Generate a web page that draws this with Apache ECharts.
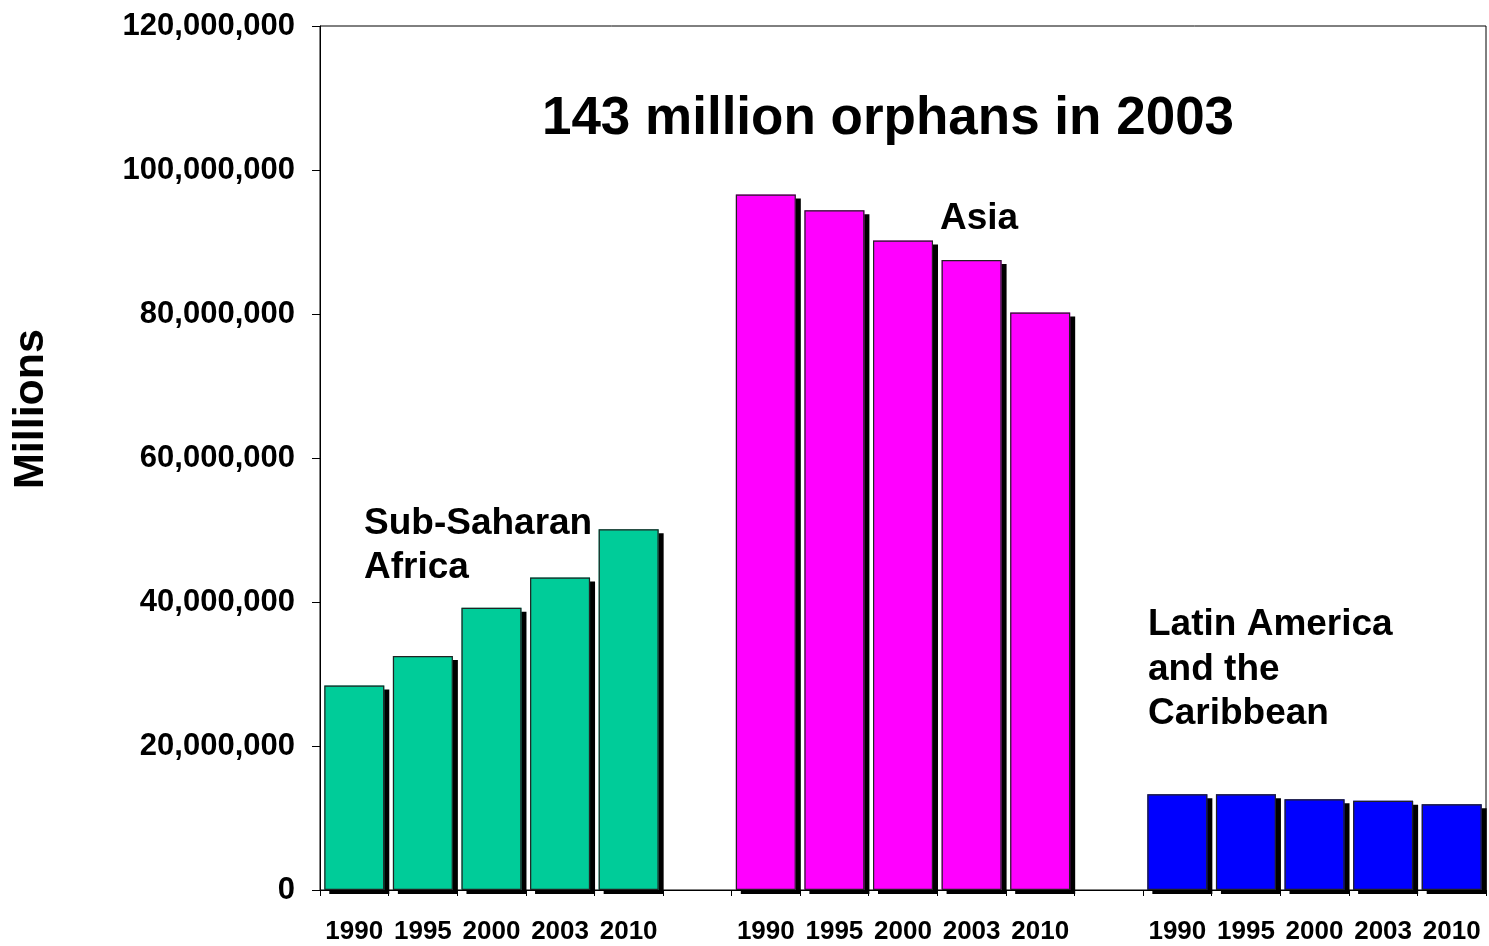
<!DOCTYPE html>
<html>
<head>
<meta charset="utf-8">
<script src="https://cdn.jsdelivr.net/npm/echarts@6/dist/echarts.min.js"></script>
<style>
  html, body { margin: 0; padding: 0; background: #fff; }
  #main { width: 1489px; height: 946px; }
</style>
</head>
<body>
<div id="main"></div>
<script>
// categories: three regions, five years each, with an empty slot after each group
var years = ['1990', '1995', '2000', '2003', '2010'];
var categories = years.concat(['']).concat(years).concat(['']).concat(years);

// orphans
var africa = [28400000, 32500000, 39200000, 43400000, 50100000];
var asia = [96600000, 94400000, 90200000, 87500000, 80200000];
var latinAmerica = [13300000, 13300000, 12600000, 12400000, 11900000];

var yTicks = [0, 20000000, 40000000, 60000000, 80000000, 100000000, 120000000];

var font = '"Liberation Sans", Arial, sans-serif';

// put each region into its own slots of the 17 categories
function place(values, start) {
  var out = [];
  for (var i = 0; i < categories.length; i++) out.push('-');
  for (var j = 0; j < values.length; j++) out[start + j] = values[j];
  return out;
}

// filled bar with the hard black drop shadow
function shadowBar(name, values, start, color) {
  return {
    name: name, type: 'bar', barWidth: 60, barGap: '-100%',
    data: place(values, start),
    itemStyle: {
      color: color, borderWidth: 0,
      shadowColor: '#000', shadowBlur: 0, shadowOffsetX: 5, shadowOffsetY: 4
    }
  };
}

// thin outline drawn on top, without shadow
function outlineBar(name, values, start) {
  return {
    name: name, type: 'bar', barWidth: 60, barGap: '-100%',
    data: place(values, start), silent: true,
    itemStyle: { color: 'transparent', borderColor: '#222', borderWidth: 1.2 }
  };
}

var myChart = echarts.init(document.getElementById('main'));

myChart.setOption({
  animation: false,
  backgroundColor: '#fff',
  grid: {
    left: 320, right: 3, top: 26, bottom: 56,
    show: true, borderColor: '#000', borderWidth: 1, backgroundColor: 'transparent'
  },
  xAxis: {
    type: 'category',
    data: categories,
    axisLine: { lineStyle: { color: '#000', width: 1 } },
    axisTick: { show: true, interval: 0, length: 6, lineStyle: { color: '#000' } },
    axisLabel: {
      interval: 0, margin: 29, color: '#000',
      fontFamily: font, fontWeight: 'bold', fontSize: 26
    },
    splitLine: { show: false }
  },
  yAxis: {
    type: 'value',
    min: yTicks[0],
    max: yTicks[yTicks.length - 1],
    interval: yTicks[1] - yTicks[0],
    axisLine: { show: true, lineStyle: { color: '#000', width: 1 } },
    axisTick: { show: true, length: 8, lineStyle: { color: '#000' } },
    axisLabel: {
      margin: 25, color: '#000', padding: [4, 0, 0, 0],
      fontFamily: font, fontWeight: 'bold', fontSize: 31,
      formatter: function (v) { return v.toLocaleString('en-US'); }
    },
    splitLine: { show: false }
  },
  series: [
    shadowBar('Sub-Saharan Africa', africa, 0, '#00CC99'),
    shadowBar('Asia', asia, 6, '#FF00FF'),
    shadowBar('Latin America and the Caribbean', latinAmerica, 12, '#0000FF'),
    outlineBar('Sub-Saharan Africa outline', africa, 0),
    outlineBar('Asia outline', asia, 6),
    outlineBar('Latin America outline', latinAmerica, 12)
  ],
  graphic: [
    {
      type: 'text', x: 31, y: 409, rotation: Math.PI / 2,
      style: {
        text: 'Millions', fill: '#000',
        font: 'bold 43px ' + font, textAlign: 'center', textVerticalAlign: 'middle'
      }
    },
    {
      type: 'text', x: 888, y: 119,
      style: {
        text: '143 million orphans in 2003', fill: '#000',
        font: 'bold 53px ' + font, textAlign: 'center', textVerticalAlign: 'middle'
      }
    },
    {
      type: 'text', x: 364, y: 502,
      style: {
        text: 'Sub-Saharan\nAfrica', fill: '#000', lineHeight: 44,
        font: 'bold 37px ' + font, textAlign: 'left', textVerticalAlign: 'top'
      }
    },
    {
      type: 'text', x: 940, y: 197,
      style: {
        text: 'Asia', fill: '#000', lineHeight: 44,
        font: 'bold 37px ' + font, textAlign: 'left', textVerticalAlign: 'top'
      }
    },
    {
      type: 'text', x: 1148, y: 603,
      style: {
        text: 'Latin America\nand the\nCaribbean', fill: '#000', lineHeight: 44.5,
        font: 'bold 37px ' + font, textAlign: 'left', textVerticalAlign: 'top'
      }
    }
  ]
});
</script>
</body>
</html>
